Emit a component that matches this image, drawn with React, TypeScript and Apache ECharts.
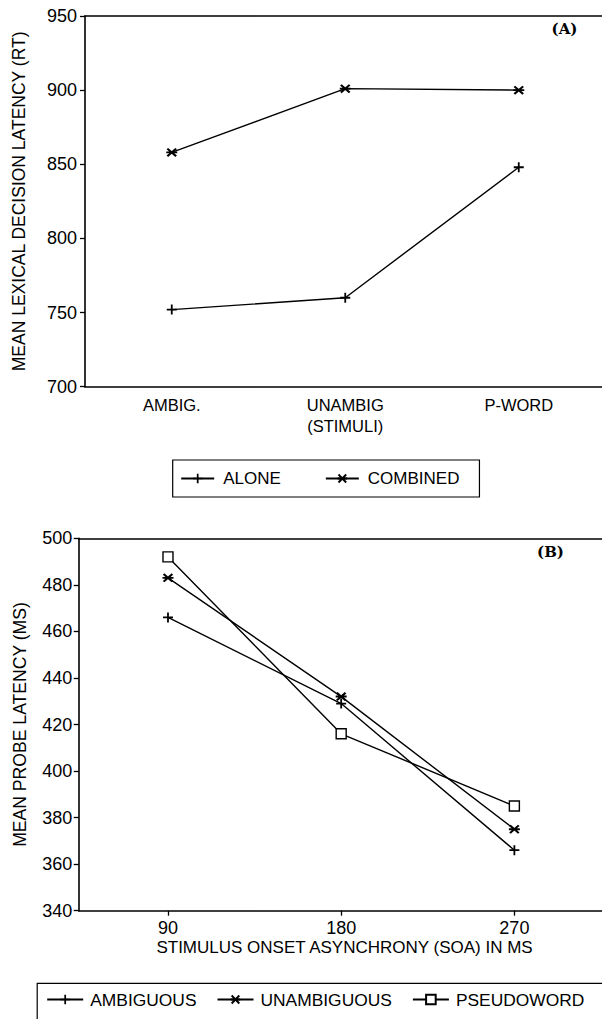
import React, { useEffect, useRef } from "react";
import * as echarts from "echarts";

// ---- Panel A data ----
const categoriesA = ["AMBIG.", "UNAMBIG\n(STIMULI)", "P-WORD"];
const aloneA = [752, 760, 848];
const combinedA = [858, 901, 900];

// ---- Panel B data ----
const soaB = [90, 180, 270];
const ambiguousB = [466, 429, 366];
const unambiguousB = [483, 432, 375];
const pseudowordB = [492, 416, 385];

const FONT = "Liberation Sans";

const PLUS =
  "path://M4.1,0H5.9V4.1H10V5.9H5.9V10H4.1V5.9H0V4.1H4.1Z";
const STAR =
  "path://M0,4.0L10,4.0L10,6.0L0,6.0Z" +
  "M1.707,0.293L9.707,8.293L8.293,9.707L0.293,1.707Z" +
  "M1.707,9.707L0.293,8.293L8.293,0.293L9.707,1.707Z";

export default function App() {
  const ref = useRef<HTMLDivElement>(null);

  useEffect(() => {
    if (!ref.current) return;
    const chart = echarts.init(ref.current, undefined, { renderer: "svg" });
    const black = "#000";
    const lineStyle = { color: black, width: 1.4 };
    const filled = { color: black, borderWidth: 0 };
    const empty = { color: "#fff", borderColor: black, borderWidth: 1.4 };
    const axisLine = { show: true, onZero: false, lineStyle: { color: black, width: 1.6 } };
    const tickStyle = { lineStyle: { color: black, width: 1.3 } };

    const toPairs = (vals: number[]) => soaB.map((x, i) => [x, vals[i]]);

    chart.setOption({
      animation: false,
      backgroundColor: "#fff",
      textStyle: { fontFamily: FONT, color: black },
      grid: [
        {
          left: 85,
          top: 16,
          width: 520.5,
          height: 370.7,
          show: false,
          outerBoundsMode: "none",
          containLabel: false,
        },
        {
          left: 78.7,
          top: 538.3,
          width: 531.7,
          height: 372.4,
          show: false,
          outerBoundsMode: "none",
          containLabel: false,
        },
      ],
      xAxis: [
        {
          gridIndex: 0,
          type: "category",
          data: categoriesA,
          boundaryGap: true,
          axisLine,
          axisTick: { alignWithLabel: true, length: 5, ...tickStyle },
          axisLabel: {
            color: black,
            fontFamily: FONT,
            fontSize: 16.5,
            lineHeight: 21,
            margin: 8,
          },
          splitLine: { show: false },
        },
        {
          gridIndex: 1,
          type: "value",
          min: 43.6,
          max: 319.9,
          axisLine,
          axisTick: { customValues: soaB, length: 5, ...tickStyle },
          axisLabel: {
            customValues: soaB,
            color: black,
            fontFamily: FONT,
            fontSize: 18,
            margin: 8,
          },
          splitLine: { show: false },
          name: "STIMULUS ONSET ASYNCHRONY (SOA) IN MS",
          nameLocation: "middle",
          nameGap: 28.5,
          nameTextStyle: { color: black, fontFamily: FONT, fontSize: 17 },
        },
        {
          gridIndex: 0,
          type: "category",
          position: "top",
          data: categoriesA,
          axisLine,
          axisTick: { show: false },
          axisLabel: { show: false },
          splitLine: { show: false },
        },
        {
          gridIndex: 1,
          type: "value",
          position: "top",
          min: 43.6,
          max: 319.9,
          axisLine,
          axisTick: { show: false },
          axisLabel: { show: false },
          splitLine: { show: false },
        },
      ],
      yAxis: [
        {
          gridIndex: 0,
          type: "value",
          min: 700,
          max: 950,
          interval: 50,
          axisLine,
          axisTick: { show: true, length: 5, ...tickStyle },
          axisLabel: { color: black, fontFamily: FONT, fontSize: 18, margin: 8 },
          splitLine: { show: false },
          name: "MEAN LEXICAL DECISION LATENCY (RT)",
          nameLocation: "middle",
          nameGap: 57,
          nameTextStyle: { color: black, fontFamily: FONT, fontSize: 17.5 },
        },
        {
          gridIndex: 1,
          type: "value",
          min: 340,
          max: 500,
          interval: 20,
          axisLine,
          axisTick: { show: true, length: 5, ...tickStyle },
          axisLabel: { color: black, fontFamily: FONT, fontSize: 18, margin: 6.5 },
          splitLine: { show: false },
          name: "MEAN PROBE LATENCY (MS)",
          nameLocation: "middle",
          nameGap: 50,
          nameTextStyle: { color: black, fontFamily: FONT, fontSize: 17.6 },
        },
      ],
      legend: [
        {
          data: ["ALONE", "COMBINED"],
          left: 172.7,
          top: 460,
          orient: "horizontal",
          padding: [10, 20, 10, 7.5],
          borderColor: black,
          borderWidth: 1.2,
          itemWidth: 33,
          itemHeight: 12,
          itemGap: 44,
          selectedMode: false,
          textStyle: {
            fontFamily: FONT,
            fontSize: 17,
            color: black,
            padding: [0, 0, 0, 4],
          },
        },
        {
          data: ["AMBIGUOUS", "UNAMBIGUOUS", "PSEUDOWORD"],
          left: 37.2,
          top: 991,
          orient: "horizontal",
          padding: [0, 0, 0, 9],
          itemWidth: 36,
          itemHeight: 12,
          itemGap: 20,
          selectedMode: false,
          textStyle: {
            fontFamily: FONT,
            fontSize: 17.4,
            color: black,
            padding: [0, 0, 0, 2],
          },
        },
      ],
      graphic: [
        {
          type: "rect",
          shape: { x: 37.2, y: 983.3, width: 620, height: 100 },
          style: { fill: "none", stroke: black, lineWidth: 1.2 },
          silent: true,
        },
        {
          type: "text",
          x: 564.5,
          y: 29.3,
          style: {
            text: "(A)",
            fontFamily: "DejaVu Serif",
            fontWeight: "bold",
            fontSize: 15,
            fill: black,
            align: "center",
            verticalAlign: "middle",
          },
        },
        {
          type: "text",
          x: 550.5,
          y: 551.7,
          style: {
            text: "(B)",
            fontFamily: "DejaVu Serif",
            fontWeight: "bold",
            fontSize: 15,
            fill: black,
            align: "center",
            verticalAlign: "middle",
          },
        },
      ],
      series: [
        {
          name: "ALONE",
          type: "line",
          xAxisIndex: 0,
          yAxisIndex: 0,
          data: aloneA,
          symbol: PLUS,
          symbolSize: 10,
          lineStyle,
          itemStyle: filled,
          silent: true,
        },
        {
          name: "COMBINED",
          type: "line",
          xAxisIndex: 0,
          yAxisIndex: 0,
          data: combinedA,
          symbol: STAR,
          symbolSize: [11, 9],
          lineStyle,
          itemStyle: filled,
          silent: true,
        },
        {
          name: "AMBIGUOUS",
          type: "line",
          xAxisIndex: 1,
          yAxisIndex: 1,
          data: toPairs(ambiguousB),
          symbol: PLUS,
          symbolSize: 10,
          lineStyle,
          itemStyle: filled,
          silent: true,
        },
        {
          name: "UNAMBIGUOUS",
          type: "line",
          xAxisIndex: 1,
          yAxisIndex: 1,
          data: toPairs(unambiguousB),
          symbol: STAR,
          symbolSize: [11, 9],
          lineStyle,
          itemStyle: filled,
          silent: true,
        },
        {
          name: "PSEUDOWORD",
          type: "line",
          xAxisIndex: 1,
          yAxisIndex: 1,
          data: toPairs(pseudowordB),
          symbol: "rect",
          symbolSize: 10,
          lineStyle,
          itemStyle: empty,
          silent: true,
        },
      ],
    });

    return () => chart.dispose();
  }, []);

  return (
    <div
      ref={ref}
      style={{
        position: "absolute",
        left: 0,
        top: 0,
        width: 602,
        height: 1019,
        background: "#fff",
        overflow: "hidden",
      }}
    />
  );
}
